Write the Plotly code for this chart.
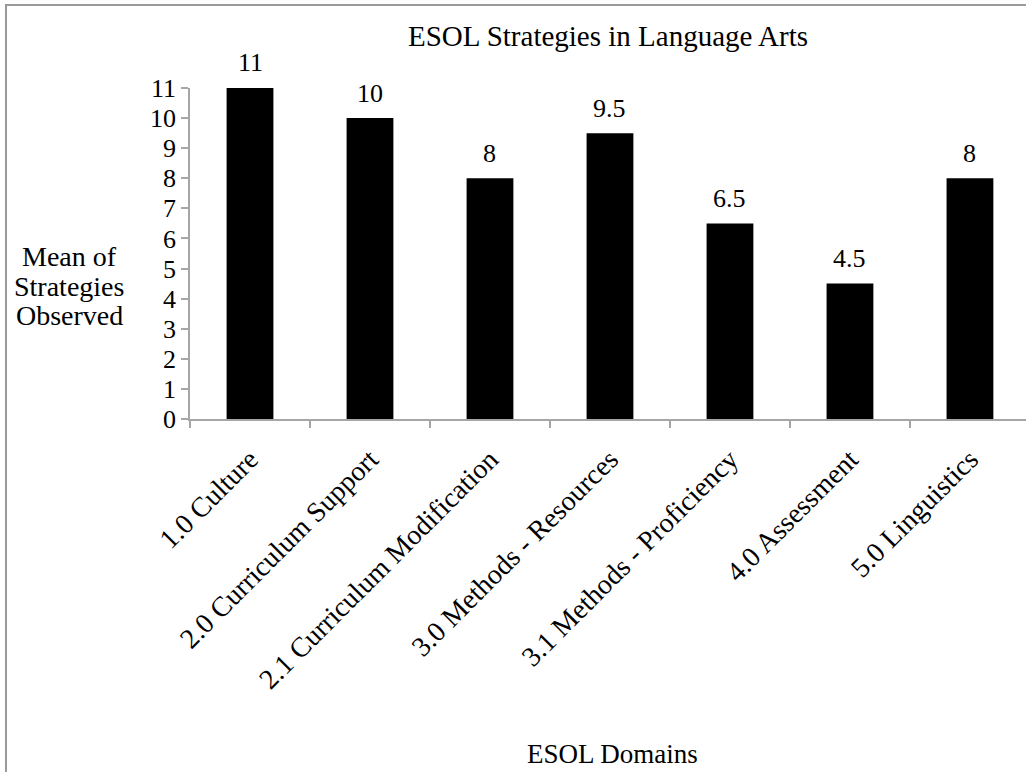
import plotly.graph_objects as go

categories = ["1.0 Culture", "2.0 Curriculum Support", "2.1 Curriculum Modification",
              "3.0 Methods - Resources", "3.1 Methods - Proficiency", "4.0 Assessment",
              "5.0 Linguistics"]
values = [11, 10, 8, 9.5, 6.5, 4.5, 8]
value_labels = ["11", "10", "8", "9.5", "6.5", "4.5", "8"]
y_ticks = list(range(0, 12))
y_title_lines = ["Mean of", "Strategies", "Observed"]

W, H = 1026, 772
FONT = "Liberation Serif"
AX = "#A6A6A6"
FS = 26


def px_x(p):
    return p / W


def px_y(p):
    return (H - p) / H


fig = go.Figure()
fig.add_trace(go.Bar(x=categories, y=values, marker=dict(color="black", line=dict(width=0)),
                     width=0.39, hoverinfo="x+y"))

for c, v, t in zip(categories, values, value_labels):
    fig.add_annotation(x=c, y=v, text=t, showarrow=False, yanchor="middle", yshift=25,
                       font=dict(family=FONT, size=FS, color="black"))

fig.update_layout(
    width=W, height=H,
    margin=dict(l=0, r=0, t=0, b=0, autoexpand=False),
    paper_bgcolor="white", plot_bgcolor="white",
    showlegend=False,
    font=dict(family=FONT, size=FS, color="black"),
    xaxis=dict(domain=[px_x(190), 1], range=[-0.5, 6.467], type="category", automargin=False,
               showline=True, linecolor=AX, linewidth=1.5,
               ticks="outside", tickson="boundaries", ticklen=7, tickcolor=AX, tickwidth=1.5,
               tickangle=-45, ticklabelstandoff=11, showgrid=False, zeroline=False,
               tickfont=dict(family=FONT, size=28, color="black")),
    yaxis=dict(domain=[px_y(419), px_y(88)], range=[0, 11], tickvals=y_ticks, automargin=False,
               showline=True, linecolor=AX, linewidth=1.5,
               ticks="outside", ticklen=7, tickcolor=AX, tickwidth=1.5,
               showgrid=False, zeroline=False,
               tickfont=dict(family=FONT, size=FS, color="black")),
)

fig.add_annotation(xref="paper", yref="paper", x=px_x(608), y=px_y(36), xanchor="center",
                   yanchor="middle", text="ESOL Strategies in Language Arts", showarrow=False,
                   font=dict(family=FONT, size=29, color="black"))
for i, line in enumerate(y_title_lines):
    fig.add_annotation(xref="paper", yref="paper", x=px_x(69), y=px_y(257 + 29 * i),
                       xanchor="center", yanchor="middle", text=line, showarrow=False,
                       font=dict(family=FONT, size=28, color="black"))
fig.add_annotation(xref="paper", yref="paper", x=px_x(612), y=px_y(754), xanchor="center",
                   yanchor="middle", text="ESOL Domains", showarrow=False,
                   font=dict(family=FONT, size=27, color="black"))

fig.add_shape(type="rect", xref="paper", yref="paper", x0=px_x(6), x1=1.2, y0=-0.2, y1=px_y(5),
              line=dict(color="#9A9A9A", width=2), fillcolor="rgba(0,0,0,0)", layer="below")

fig.write_html("out.html", config={"displayModeBar": False},
               post_script="document.body.style.margin='0';document.body.style.overflow='hidden';")
